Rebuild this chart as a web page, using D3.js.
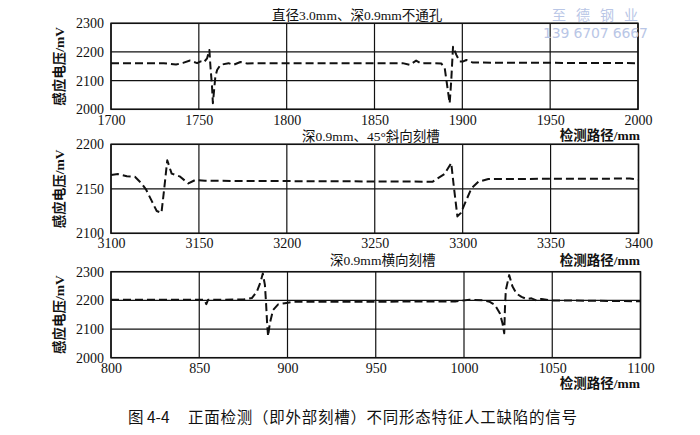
<!DOCTYPE html>
<html><head><meta charset="utf-8">
<script src="https://cdn.jsdelivr.net/npm/d3@7"></script>
<style>
body{margin:0;background:#fff;}
svg{display:block;}
.cn{font-family:"Liberation Serif","Noto Sans CJK SC",serif;fill:#111;}
</style>
</head><body>
<script>
// ---- data ----
const p1X = [1700,1730,1737,1741,1745,1749,1751,1752.7,1754.7,1756,1756.6,1757.5,1758,1759.4,1760.4,1762.3,1766.9,1769.7,1773.7,1777.5,1782,1866,1870,1873.7,1876.6,1878.5,1888,1890,1891.7,1892.8,1893.7,1894.7,1896.6,1898.5,1900.5,1902.3,1906,2000];
const p1Y = [2161,2161,2156,2162,2170,2161,2167,2163,2178,2207,2150,2080,2021,2114,2137,2155,2161,2155,2165,2160,2161,2161,2155,2170,2160,2161,2160,2143,2068,2021,2102,2218,2190,2167,2167,2172,2163,2161];
const p1XTicks = [1700,1750,1800,1850,1900,1950,2000];
const p1YTicks = [2000,2100,2200,2300];

const p2X = [3100,3104,3109,3113.6,3117.4,3120,3123,3126,3128.7,3130.2,3132,3134.5,3139,3144,3148,3153.5,3283,3286,3289.6,3293.5,3295,3297,3299,3302,3305,3309,3314.6,3395,3400];
const p2Y = [2165.5,2166.5,2164,2163.5,2156,2149,2137,2125,2123,2149,2182,2167,2164,2156,2160,2159,2158,2162,2166.5,2179,2152,2119,2123,2137,2150.5,2158,2161,2161.5,2160.5];
const p2XTicks = [3100,3150,3200,3250,3300,3350,3400];
const p2YTicks = [2100,2150,2200];

const p3X = [800,853,854,855,875,879.8,882.6,884.8,886,887.2,887.8,888.5,889,890,891.8,894.7,898.5,903,995,1003,1010.8,1014.6,1017.5,1020.3,1021.8,1022.8,1023.2,1023.7,1025.6,1027.5,1029.7,1032.6,1035.4,1038.2,1041,1043.9,1048.6,1100];
const p3Y = [2202,2202,2187,2202,2203,2208,2230,2265,2294,2254,2196,2115,2075,2120,2166,2186,2190,2195,2196,2202,2200,2195,2184,2155,2120,2085,2172,2236,2288,2248,2224,2212,2205,2207,2200,2205,2200,2197];
const p3XTicks = [800,850,900,950,1000,1050,1100];
const p3YTicks = [2000,2100,2200,2300];

const panelTitles = ["直径3.0mm、深0.9mm不通孔","深0.9mm、45°斜向刻槽","深0.9mm横向刻槽"];
const yTitle = "感应电压/mV";
const xTitle = "检测路径/mm";
const captionFig = "图 4-4";
const captionText = "正面检测（即外部刻槽）不同形态特征人工缺陷的信号";
const watermark = ["至德钢业","139 6707 6667"];

// ---- layout ----
const W = 700, H = 435;
const svg = d3.select("body").append("svg").attr("width",W).attr("height",H);
svg.append("rect").attr("width",W).attr("height",H).attr("fill","#fff");
const numFont = "'Liberation Serif','Times New Roman',serif";

const panels = [
  {x:p1X,y:p1Y,xt:p1XTicks,yt:p1YTicks,xd:[1700,2000],yd:[2000,2300],top:23.3,bot:109.3,right:638,title:panelTitles[0],titleX:272,titleY:20,xlabY:140,tickY:124.5},
  {x:p2X,y:p2Y,xt:p2XTicks,yt:p2YTicks,xd:[3100,3400],yd:[2100,2200],top:144.3,bot:233.3,right:638.5,title:panelTitles[1],titleX:302,titleY:141,xlabY:265,tickY:247.5},
  {x:p3X,y:p3Y,xt:p3XTicks,yt:p3YTicks,xd:[800,1100],yd:[2000,2300],top:271.7,bot:357.7,right:640.5,title:panelTitles[2],titleX:330,titleY:265,xlabY:388,tickY:372.5}
];
const left = 111;

panels.forEach(p=>{
  const xs = d3.scaleLinear().domain(p.xd).range([left,p.right]);
  const ys = d3.scaleLinear().domain(p.yd).range([p.bot,p.top]);
  const g = svg.append("g");
  // grid
  g.selectAll(".vg").data(p.xt).join("line")
    .attr("x1",d=>xs(d)).attr("x2",d=>xs(d)).attr("y1",p.top).attr("y2",p.bot)
    .attr("stroke","#111").attr("stroke-width",1.2);
  g.selectAll(".hg").data(p.yt).join("line")
    .attr("x1",left).attr("x2",p.right).attr("y1",d=>ys(d)).attr("y2",d=>ys(d))
    .attr("stroke","#111").attr("stroke-width",1.2);
  g.append("rect").attr("x",left).attr("y",p.top).attr("width",p.right-left).attr("height",p.bot-p.top)
    .attr("fill","none").attr("stroke","#111").attr("stroke-width",1.5);
  // axes (labels only)
  const xa = g.append("g").attr("transform",`translate(0,${p.tickY})`)
    .call(d3.axisBottom(xs).tickValues(p.xt).tickSize(0).tickPadding(0).tickFormat(d3.format("d")))
    .attr("font-family",numFont).attr("font-size",14);
  xa.select(".domain").remove();
  xa.selectAll("text").attr("y",0).attr("dy",0).attr("fill","#111");
  const ya = g.append("g").attr("transform",`translate(${left},0)`)
    .call(d3.axisLeft(ys).tickValues(p.yt).tickSize(0).tickPadding(7).tickFormat(d3.format("d")))
    .attr("font-family",numFont).attr("font-size",14);
  ya.select(".domain").remove();
  ya.selectAll("text").attr("fill","#111");
  // line
  const data = p.x.map((v,i)=>[v,p.y[i]]);
  g.append("path").datum(data)
    .attr("d",d3.line().x(d=>xs(d[0])).y(d=>ys(d[1])))
    .attr("fill","none").attr("stroke","#111").attr("stroke-width",2)
    .attr("stroke-dasharray","8,4").attr("stroke-linejoin","round");
  // titles
  svg.append("text").attr("class","cn").attr("x",p.titleX).attr("y",p.titleY)
    .attr("font-size",13.5).text(p.title);
  svg.append("text").attr("class","cn").attr("x",640).attr("y",p.xlabY)
    .attr("text-anchor","end").attr("font-size",13.5).attr("font-weight","bold").text(xTitle);
  svg.append("text").attr("class","cn")
    .attr("transform",`translate(64,${(p.top+p.bot)/2}) rotate(-90)`)
    .attr("text-anchor","middle").attr("font-size",13.5).attr("font-weight","bold").text(yTitle);
});

// caption
svg.append("text").attr("class","cn").attr("x",128).attr("y",423).attr("font-size",15.5)
  .style("font-family","'Noto Sans CJK SC',sans-serif").text(captionFig);
svg.append("text").attr("class","cn").attr("x",188).attr("y",423).attr("font-size",15.5)
  .attr("textLength",389).attr("lengthAdjust","spacing")
  .style("font-family","'Noto Sans CJK SC',sans-serif").text(captionText);

// watermark
svg.append("text").attr("x",552).attr("y",20)
  .attr("font-size",14).attr("fill","#b9c6e6").style("font-family","'Noto Sans CJK SC',sans-serif")
  .attr("textLength",86).attr("lengthAdjust","spacing")
  .text(watermark[0]);
svg.append("text").attr("x",543).attr("y",38)
  .attr("font-size",14).attr("fill","#b9c6e6").style("font-family","'DejaVu Sans',sans-serif")
  .attr("textLength",105).attr("lengthAdjust","spacing").text(watermark[1]);
</script>
</body></html>
